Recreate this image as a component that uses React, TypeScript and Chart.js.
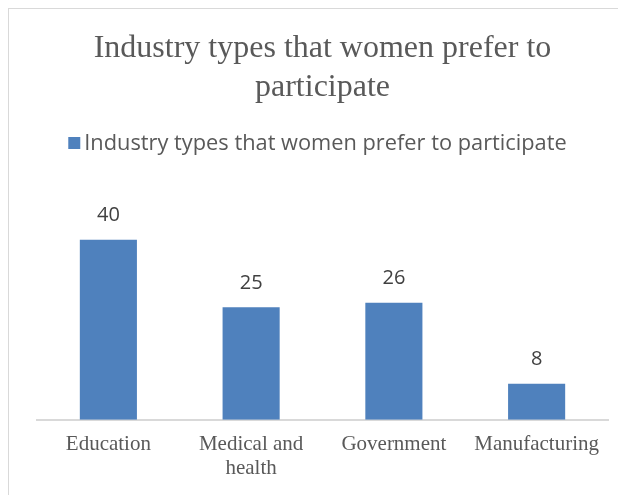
import React, { useEffect, useRef } from "react";
import { Chart, registerables } from "chart.js";

Chart.register(...registerables);

const categories: (string | string[])[] = ["Education", ["Medical and", "health"], "Government", "Manufacturing"];
const values: number[] = [40, 25, 26, 8];
const seriesName = "Industry types that women prefer to participate";
const titleLines: string[] = ["Industry types that women prefer to", "participate"];
const barColor = "#4f81bd";

const dataLabelsPlugin = {
  id: "dataLabels",
  afterDatasetsDraw(chart: any) {
    const ctx = chart.ctx;
    const meta = chart.getDatasetMeta(0);
    ctx.save();
    ctx.font = "20px 'Open Sans'";
    ctx.fillStyle = "#404040";
    ctx.textAlign = "center";
    ctx.textBaseline = "middle";
    meta.data.forEach((bar: any, i: number) => {
      ctx.fillText(String(values[i]), bar.x, bar.y - 24);
    });
    ctx.restore();
  },
};

const customLegendPlugin = {
  id: "customLegend",
  afterDraw(chart: any) {
    const ctx = chart.ctx;
    const ds = chart.data.datasets[0];
    ctx.save();
    ctx.font = "21.8px 'Open Sans'";
    const tw = ctx.measureText(ds.label).width;
    const box = 12;
    const gap = 4;
    const total = box + gap + tw;
    const cx = chart.width / 2;
    const x0 = cx - total / 2;
    const cy = 134;
    ctx.fillStyle = ds.backgroundColor;
    ctx.fillRect(x0, cy - box / 2, box, box);
    ctx.fillStyle = "#595959";
    ctx.textAlign = "left";
    ctx.textBaseline = "middle";
    ctx.fillText(ds.label, x0 + box + gap, cy + 1);
    ctx.restore();
  },
};

export default function App() {
  const ref = useRef<HTMLCanvasElement>(null);
  useEffect(() => {
    if (!ref.current) return;
    const chart = new Chart(ref.current, {
      type: "bar",
      data: {
        labels: categories,
        datasets: [
          {
            label: seriesName,
            data: values,
            backgroundColor: barColor,
            barPercentage: 0.5,
            categoryPercentage: 0.8,
          },
        ],
      },
      options: {
        animation: false,
        responsive: false,
        maintainAspectRatio: false,
        layout: { padding: { left: 28, right: 18, top: 0, bottom: 1 } },
        plugins: {
          title: {
            display: true,
            text: titleLines,
            color: "#595959",
            font: { family: "'Liberation Serif'", size: 32, weight: "normal", lineHeight: 1.19 },
            padding: { top: 21, bottom: 111 },
          },
          legend: { display: false },
          tooltip: { enabled: false },
        },
        scales: {
          x: {
            grid: { display: false, drawTicks: false },
            border: { display: true, color: "#d9d9d9", width: 2 },
            ticks: {
              color: "#595959",
              font: { family: "'Liberation Serif'", size: 21, lineHeight: 1.15 },
              padding: 13,
              maxRotation: 0,
              autoSkip: false,
            },
          },
          y: {
            display: false,
            min: 0,
            max: 45,
          },
        },
      },
      plugins: [dataLabelsPlugin, customLegendPlugin],
    });
    return () => chart.destroy();
  }, []);
  return (
    <div
      style={{
        marginLeft: -1,
        marginTop: -1,
        borderLeft: "2px solid #d9d9d9",
        borderTop: "2px solid #d9d9d9",
        width: 640,
        height: 500,
        overflow: "hidden",
      }}
    >
      <canvas ref={ref} width={617} height={486} style={{ display: "block" }} />
    </div>
  );
}
